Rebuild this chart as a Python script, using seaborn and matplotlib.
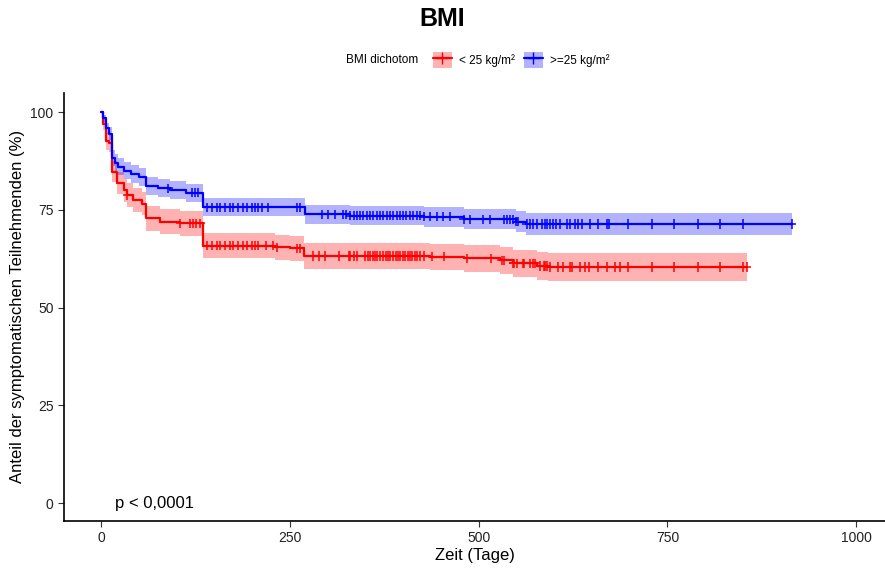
import numpy as np
import pandas as pd
import matplotlib
matplotlib.use("Agg")
import matplotlib.pyplot as plt
from matplotlib.patches import Patch
from matplotlib.lines import Line2D
import seaborn as sns

# Kaplan-Meier steps
group_names = ['< 25 kg/m²', '>=25 kg/m²']

times_r = [0, 3, 6, 10, 14, 21, 30, 34, 43, 54, 60, 78, 105, 135, 230, 250, 269, 436, 480, 528, 546, 577, 592, 855]
surv_r = [100, 97, 92.5, 92, 84.7, 81.8, 80, 78.8, 77.5, 76.6, 72.8, 72, 71.5, 65.8, 65.4, 65.1, 63.2, 63, 62.6, 62.1, 61.3, 60.6, 60.4, 60.4]
lo_r = [100, 95.5, 90.3, 89.7, 82, 79, 77.1, 75.8, 74.5, 73.6, 69.7, 68.9, 68.4, 62.6, 62.2, 61.9, 59.9, 59.7, 59.2, 58.7, 57.8, 57.0, 56.8, 56.8]
hi_r = [100, 98.4, 94.6, 94.2, 87.4, 84.6, 82.9, 81.8, 80.5, 79.6, 75.9, 75.1, 74.6, 69.0, 68.6, 68.3, 66.5, 66.3, 65.9, 65.5, 64.8, 64.1, 63.9, 63.9]

times_b = [0, 3, 6, 10, 14, 18, 22, 30, 40, 50, 60, 75, 91, 113, 135, 270, 330, 427, 480, 550, 563, 915]
surv_b = [100, 98.5, 96, 94.5, 88.2, 87, 86, 85, 84.2, 83.3, 81, 80.5, 80, 79.4, 75.6, 73.8, 73.5, 73.2, 72.6, 72, 71.4, 71.4]
lo_b = [100, 97.5, 94.5, 92.8, 86.1, 84.8, 83.8, 82.8, 81.9, 81, 78.7, 78.2, 77.7, 77.1, 73.3, 71.3, 71, 70.7, 70, 69.3, 68.6, 68.6]
hi_b = [100, 99.3, 97.3, 96.1, 90.3, 89.2, 88.2, 87.2, 86.4, 85.6, 83.3, 82.8, 82.3, 81.7, 77.9, 76.3, 76, 75.7, 75.2, 74.7, 74.2, 74.2]

# censoring times
cens_r = [35, 105, 118, 122, 126, 131, 140, 146.6, 153, 157.6, 164, 171, 175, 182, 188.4, 193, 199.5, 204, 208,
          219, 228, 232.6, 259, 263.5, 281, 288, 297, 314.6, 328, 330, 334.5, 339, 350, 353, 356.5, 360, 363, 366,
          370, 373, 377, 380, 383, 386, 390, 393, 396.5, 400, 403, 406, 409, 412, 416, 419, 423, 427, 438.6, 454,
          485, 516, 531, 533.6, 546, 547, 551, 559, 560, 568, 572.6, 574.8, 581.5, 586, 588, 590, 594.5, 605.5,
          612, 621, 623, 634, 641, 645.5, 658.5, 669.6, 680.6, 687, 698, 729, 758, 790, 820, 850.5, 855]
cens_b = [89, 120, 124.5, 129, 140, 146.6, 153, 157.6, 164, 171, 175, 182, 188.4, 193, 199.5, 204, 208, 213,
          221.5, 259, 263.5, 292, 301, 310, 321, 325, 330, 335, 339, 343, 347, 352, 356, 360, 365, 369, 374, 378,
          383, 387, 392, 396, 400, 404, 409, 413, 418, 422, 427, 436, 444.5, 453, 462, 480, 489, 506, 515, 533,
          537, 541.5, 546, 550, 552.6, 563.7, 568, 572, 577, 583.5, 588, 590, 594.5, 599, 603, 608, 617, 621, 628,
          632, 636.5, 647.5, 658.5, 669.6, 672, 698, 729, 758, 790, 820, 850.5, 914.6]

colors = ['#FF0000', '#0000FF']

sns.set_style('white')
plt.rcParams['font.family'] = ['Liberation Sans', 'DejaVu Sans']
plt.rcParams['text.color'] = 'black'
plt.rcParams['axes.labelcolor'] = 'black'

steps = pd.concat([
    pd.DataFrame({'time': times_r, 'surv': surv_r, 'lo': lo_r, 'hi': hi_r, 'group': group_names[0]}),
    pd.DataFrame({'time': times_b, 'surv': surv_b, 'lo': lo_b, 'hi': hi_b, 'group': group_names[1]}),
])


def surv_at(t, times, surv):
    idx = np.searchsorted(times, t, side='right') - 1
    return np.asarray(surv)[idx]


cens = pd.concat([
    pd.DataFrame({'time': cens_r, 'surv': surv_at(cens_r, times_r, surv_r), 'group': group_names[0]}),
    pd.DataFrame({'time': cens_b, 'surv': surv_at(cens_b, times_b, surv_b), 'group': group_names[1]}),
])

fig = plt.figure(figsize=(8.85, 5.7), dpi=100)
ax = fig.add_axes([64 / 885, 1 - 521 / 570, 1 - 64 / 885, (521 - 92.5) / 570])

for name, col in zip(group_names, colors):
    d = steps[steps.group == name]
    ax.fill_between(d.time, d.lo, d.hi, step='post', color=col, alpha=0.3, linewidth=0)

sns.lineplot(data=steps, x='time', y='surv', hue='group', palette=colors, hue_order=group_names,
             drawstyle='steps-post', estimator=None, linewidth=1.6, legend=False, ax=ax)
sns.scatterplot(data=cens, x='time', y='surv', hue='group', palette=colors, hue_order=group_names,
                marker='+', s=45, linewidth=1.1, legend=False, ax=ax, zorder=3)

ax.set_xlim(-49, 1038)
ax.set_ylim(-4.6, 105)
ax.set_xticks([0, 250, 500, 750, 1000])
ax.set_yticks([0, 25, 50, 75, 100])
ax.tick_params(axis='both', labelsize=10, length=4, width=0.8, color='#333333', labelcolor='#222222',
               bottom=True, left=True, direction='out')
for s in ['top', 'right']:
    ax.spines[s].set_visible(False)
for s in ['left', 'bottom']:
    ax.spines[s].set_color('black')
    ax.spines[s].set_linewidth(1.2)

ax.set_xlabel('Zeit (Tage)', fontsize=12, labelpad=2)
ax.set_ylabel('Anteil der symptomatischen Teilnehmenden (%)', fontsize=12, labelpad=4)
ax.text(18, 0, 'p < 0,0001', fontsize=12, va='center', ha='left')

fig.suptitle('BMI', fontsize=18, fontweight='bold', y=1 - 19 / 570, va='center')

handles = [(Patch(facecolor=c, alpha=0.3, edgecolor='none'),
            Line2D([], [], color=c, marker='+', markersize=8, linewidth=1.6)) for c in colors]
fig.text(418 / 885, 1 - 60 / 570, 'BMI dichotom', fontsize=8.5, ha='right', va='center')
fig.legend(handles, group_names, loc='center', bbox_to_anchor=(521 / 885, 1 - 60 / 570), ncol=2,
           frameon=False, fontsize=8.5, handlelength=1.6, handleheight=1.8, columnspacing=0.8, handletextpad=0.6)

fig.savefig('out.png', dpi=100)
